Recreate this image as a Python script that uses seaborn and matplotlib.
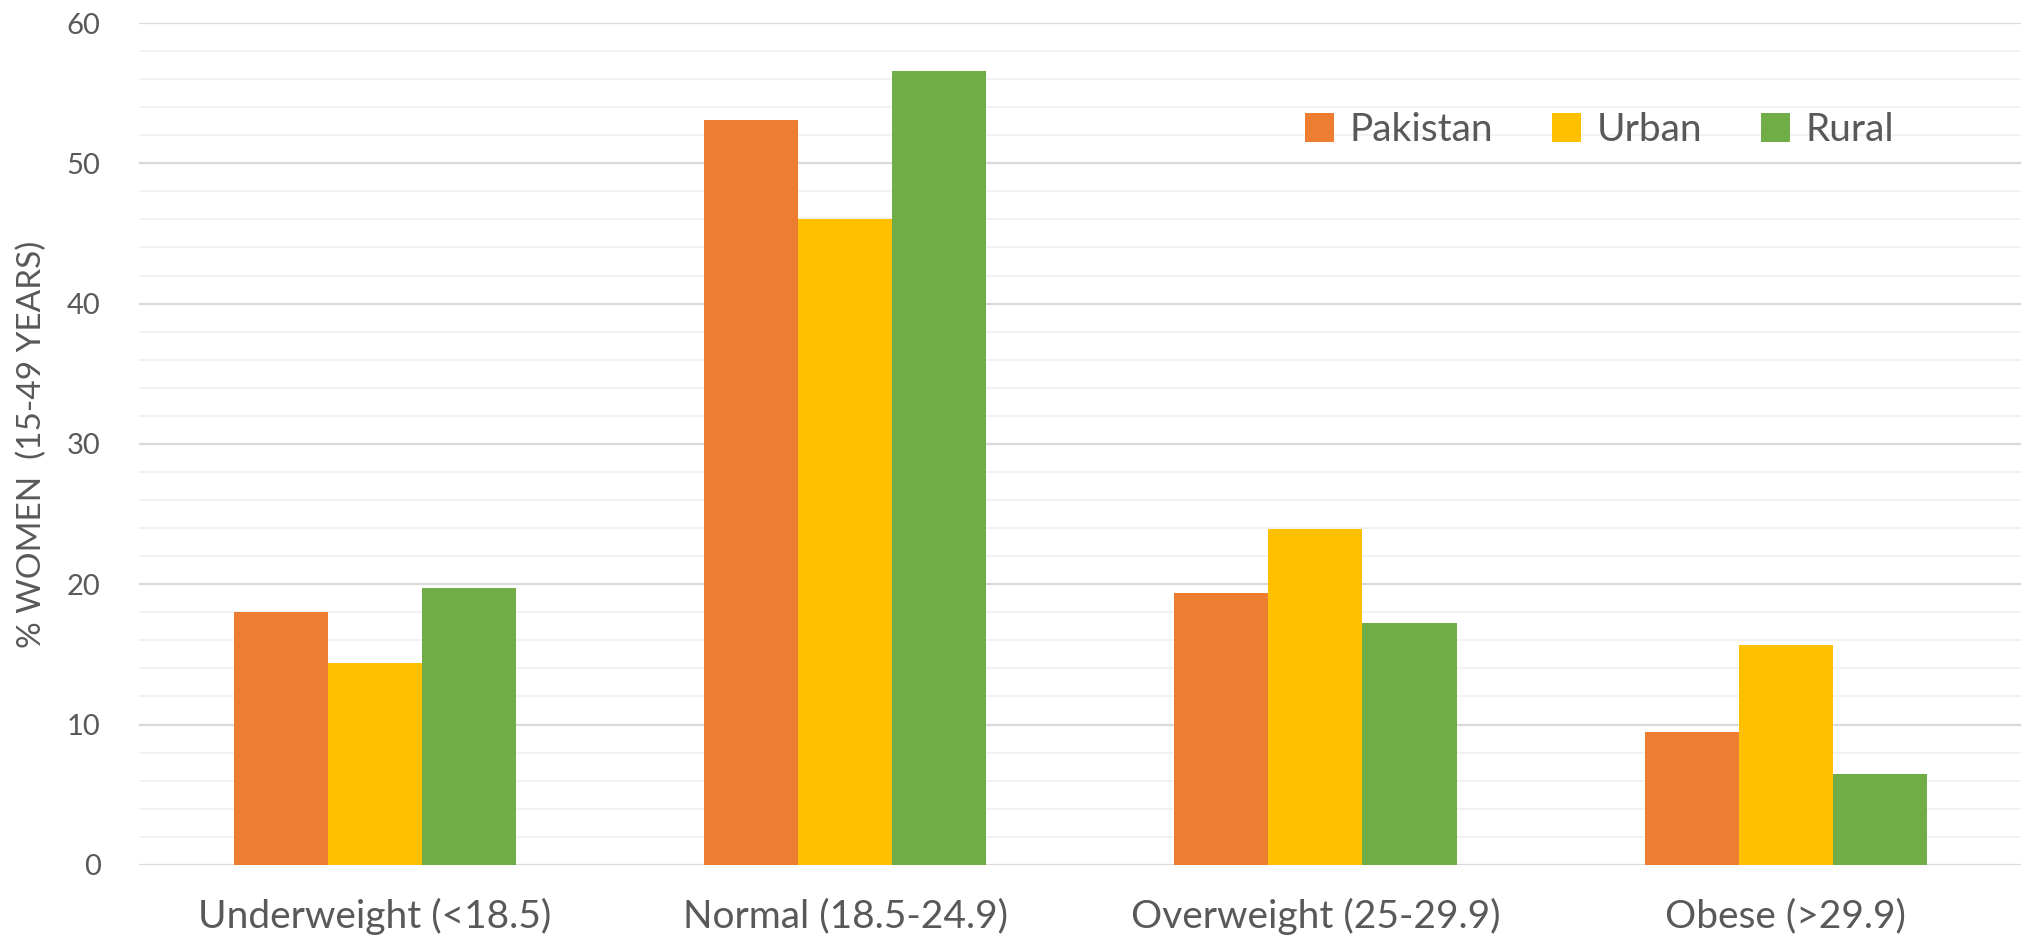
import matplotlib
matplotlib.use("Agg")
import matplotlib.pyplot as plt
import seaborn as sns
import pandas as pd
import numpy as np

categories = ["Underweight (<18.5)", "Normal (18.5-24.9)", "Overweight (25-29.9)", "Obese (>29.9)"]
series = ["Pakistan", "Urban", "Rural"]
pakistan = [18.0, 53.1, 19.4, 9.5]
urban = [14.4, 46.0, 23.9, 15.7]
rural = [19.7, 56.6, 17.2, 6.5]
colors = ["#ED7D31", "#FFC000", "#70AD47"]

rows = []
for s, vals in zip(series, [pakistan, urban, rural]):
    for c, v in zip(categories, vals):
        rows.append({"category": c, "series": s, "value": v})
df = pd.DataFrame(rows)

sns.set_theme(style="white")
plt.rcParams['font.family'] = ['Lato', 'DejaVu Sans']
text_color = "#595959"

fig = plt.figure(figsize=(20.21, 9.39), dpi=100)
ax = fig.add_axes([0.069, 0.079, 0.931, 0.8965])

sns.barplot(data=df, x="category", y="value", hue="series", order=categories,
            hue_order=series, palette=colors, width=0.6, ax=ax, saturation=1,
            linewidth=0, errorbar=None, zorder=3)

ax.set_ylim(0, 60)
ax.set_xlim(-0.5, 3.5)
ax.set_yticks(np.arange(0, 61, 10))
ax.set_yticks(np.arange(0, 61, 2), minor=True)
ax.grid(axis="y", which="major", color="#D9D9D9", linewidth=1.6, zorder=0)
ax.grid(axis="y", which="minor", color="#F2F2F2", linewidth=1.4, zorder=0)
ax.set_axisbelow(True)
for sp in ax.spines.values():
    sp.set_visible(False)
ax.tick_params(axis="both", which="both", length=0)
ax.tick_params(axis="y", labelsize=21, labelcolor=text_color, pad=28)
ax.tick_params(axis="x", labelsize=28, labelcolor=text_color, pad=24)
ax.set_xlabel("")
ax.set_ylabel("% WOMEN  (15-49 YEARS)", fontsize=24, color=text_color, labelpad=14)

leg = ax.legend(loc="center", bbox_to_anchor=(0.776, 0.873), ncol=3, frameon=False,
                fontsize=28, handlelength=0.75, handleheight=0.75, columnspacing=1.5,
                handletextpad=0.4)
for t in leg.get_texts():
    t.set_color(text_color)

fig.savefig("out.png", dpi=100, facecolor="white")
